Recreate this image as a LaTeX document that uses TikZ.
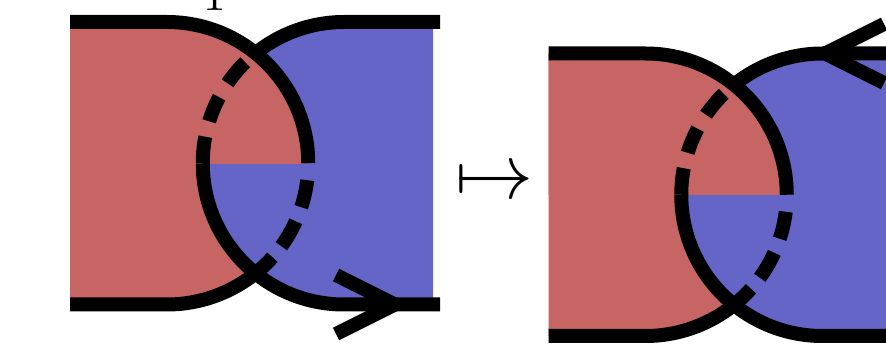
\documentclass[tikz,border=0pt]{standalone}
\definecolor{redfill}{RGB}{199,101,101}
\definecolor{bluefill}{RGB}{101,101,199}
\tikzset{
  bdry/.style={line width=14pt, line cap=butt, line join=miter},
  reddash/.style={bdry, dash pattern=on 0pt off 17pt on 27.7pt off 15.1pt on 28.9pt off 14.1pt on 40pt off 1pt},
  bluedash/.style={bdry, dash pattern=on 26.7pt off 15.9pt on 26.1pt off 16.3pt on 27.5pt off 30pt},
  arrowhead/.style={bdry},
  labeltext/.style={inner sep=0pt, outer sep=0pt}
}
\newcommand{\surfacediagram}{%
  % red region
  \fill[redfill] (70,334) -- (167,334) arc[start angle=90,end angle=-90,radius=141.25] -- (70,51.5) -- cycle;
  % blue region
  \fill[bluefill] (433,334) -- (344,334) arc[start angle=90,end angle=270,radius=141.25] -- (433,51.5) -- cycle;
  % red upper half on top
  \begin{scope}
    \clip (0,192.75) rectangle (440,400);
    \fill[redfill] (70,334) -- (167,334) arc[start angle=90,end angle=-90,radius=141.25] -- (70,51.5) -- cycle;
  \end{scope}
  % blue top solid
  \draw[bdry] (440,334) -- (344,334) arc[start angle=90,end angle=128.8,radius=141.25];
  % blue dashed (behind)
  \draw[bluedash] (202.75,192.75) arc[start angle=180,end angle=128.8,radius=141.25];
  % red top solid
  \draw[bdry] (70,334) -- (167,334) arc[start angle=90,end angle=0,radius=141.25];
  % red dashed (behind)
  \draw[reddash] (308.25,192.75) arc[start angle=0,end angle=-51.2,radius=141.25];
  % red bottom solid
  \draw[bdry] (70,51.5) -- (167,51.5) arc[start angle=-90,end angle=-51.2,radius=141.25];
  % blue bottom solid (in front)
  \draw[bdry] (202.75,192.75) arc[start angle=180,end angle=270,radius=141.25] -- (440,51.5);
}
\begin{document}
\begin{tikzpicture}[x=1pt,y=1pt]
  \useasboundingbox (0,0) rectangle (886,356);
  \clip (0,0) rectangle (886,356);
  \fill[white] (0,0) rectangle (886,356);
  % left diagram
  \surfacediagram
  \draw[arrowhead] (336,81) -- (395,51.5) -- (336,22);
  % right diagram
  \begin{scope}[shift={(478.5,-31.5)}]
    \surfacediagram
  \end{scope}
  \draw[arrowhead] (884,332) -- (825,302.5) -- (884,273);
  % labels
  \node[labeltext, scale=7.8, anchor=base west] (maps) at (455.3,157.5) {$\mapsto$};
  \node[labeltext, scale=4.5, anchor=base] (toplabel) at (214.5,345) {1};
\end{tikzpicture}
\end{document}
